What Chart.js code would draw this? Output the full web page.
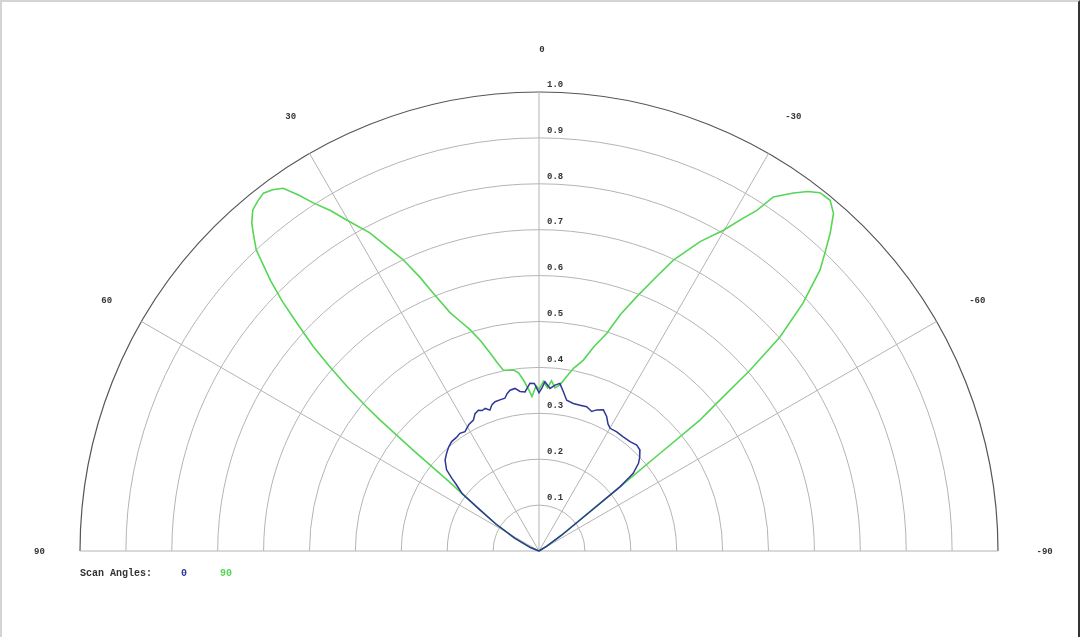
<!DOCTYPE html>
<html>
<head>
<meta charset="utf-8">
<title>Scan angle polar plot</title>
<script src="https://cdn.jsdelivr.net/npm/chart.js@4/dist/chart.umd.min.js"></script>
<style>
    body { margin: 0; background: #fff; overflow: hidden; }
    #wrap { position: relative; width: 1080px; height: 637px; }
    #frame {
        position: absolute; left: 0; top: 0; width: 1076px; height: 637px;
        border-left: 2px solid #d4d4d4; border-top: 2px solid #d4d4d4;
        border-right: 2px solid #333; box-sizing: content-box; pointer-events: none;
    }
</style>
</head>
<body>
<div id="wrap">
    <canvas id="polarChart" width="1080" height="637"></canvas>
    <div id="frame"></div>
</div>
<script>
// Scan angle 0 (blue): angle in degrees (positive = left), normalised radius
const angles0 = [90, 75, 68, 62, 58, 55, 53.2, 51.3, 50.2, 48.7, 45.9, 43.4, 41, 38.6, 36, 33.9, 31.8, 29,
    26.6, 25, 23.3, 22, 20.7, 19.2, 17.8, 16.4, 14.5, 12.6, 11.4, 10.2, 8.4, 6.8, 5.0, 3.1, 1.6, 0,
    -1, -2, -3.9, -5.5, -7.1, -8.7, -10.4, -13.1, -15.7, -18.3, -20.7, -22.2, -24.5, -26.7, -28.5, -30.1,
    -33.1, -36.4, -39.8, -42.7, -45, -47, -48.6, -50.5, -50.9, -51.6, -52.9, -55, -58, -62, -90];
const radius0 = [0, 0, 0.02, 0.06, 0.11, 0.16, 0.21, 0.23, 0.247, 0.268, 0.285, 0.293, 0.30, 0.305, 0.306, 0.309, 0.306, 0.315,
    0.319, 0.33, 0.334, 0.33, 0.332, 0.325, 0.335, 0.339, 0.340, 0.341, 0.35, 0.356, 0.358, 0.35, 0.348, 0.366, 0.365, 0.345,
    0.355, 0.369, 0.355, 0.363, 0.368, 0.351, 0.334, 0.330, 0.330, 0.331, 0.325, 0.332, 0.338, 0.328, 0.315, 0.309,
    0.310, 0.309, 0.310, 0.314, 0.311, 0.30, 0.289, 0.266, 0.251, 0.225, 0.112, 0.06, 0.02, 0, 0];

// Scan angle 90 (green)
const angles90 = [90, 75, 68, 62, 58, 55, 52.3, 51.3, 50.5, 50.1, 49.4, 48.6, 47.8, 46.8, 45.8, 44.8,
    43.2, 42, 41.2, 40, 38.8, 37.6, 36.4, 35.2, 34, 33, 31.5, 30.2, 28, 26.5, 25, 23.5, 22.3, 20.5,
    19, 17.3, 15.5, 13.9, 12.5, 11.2, 10, 8, 6.5, 5.2, 3.5, 2.6, 1.0, 0, -1.5, -3, -4.2, -5.6,
    -7.2, -9, -10.7, -13.1, -15, -17.3, -19, -21, -23, -24.8, -27.5, -29.9, -31.5, -32.6, -33.5, -35.4,
    -36.8, -38.1, -39.7, -41.1, -42.5, -43.8, -45, -46.8, -48.4, -49.4, -50.4, -50.9, -51.1, -51.6,
    -52.9, -55, -58, -62, -90];
const radius90 = [0, 0, 0.02, 0.06, 0.11, 0.16, 0.25, 0.35, 0.45, 0.49, 0.55, 0.61, 0.665, 0.72, 0.78, 0.83,
    0.90, 0.93, 0.95, 0.97, 0.978, 0.984, 0.978, 0.967, 0.935, 0.905, 0.87, 0.835, 0.785, 0.74, 0.70, 0.65, 0.607, 0.555,
    0.53, 0.505, 0.475, 0.445, 0.42, 0.402, 0.40, 0.398, 0.39, 0.374, 0.35, 0.337, 0.36, 0.352, 0.37, 0.356, 0.372, 0.357,
    0.365, 0.385, 0.405, 0.427, 0.46, 0.497, 0.545, 0.593, 0.645, 0.698, 0.76, 0.806, 0.85, 0.881, 0.925, 0.957,
    0.978, 0.992, 0.993, 0.976, 0.939, 0.90, 0.866, 0.789, 0.702, 0.606, 0.49, 0.45, 0.34, 0.225,
    0.112, 0.06, 0.02, 0, 0];

// Grid: rings, spokes and their labels
const ringValues = [0.1, 0.2, 0.3, 0.4, 0.5, 0.6, 0.7, 0.8, 0.9, 1.0];
const ringLabels = ['0.1', '0.2', '0.3', '0.4', '0.5', '0.6', '0.7', '0.8', '0.9', '1.0'];
const spokeAngles = [90, 60, 30, 0, -30, -60, -90];
const spokeLabels = ['90', '60', '30', '0', '-30', '-60', '-90'];

const legendTitle = 'Scan Angles:';
const seriesNames = ['0', '90'];
const seriesColors = ['#2f3896', '#55d655'];

// polar (deg, r) -> cartesian, positive angles to the left
function toXY(angles, radii) {
    return angles.map((a, i) => {
        const t = a * Math.PI / 180;
        return { x: -radii[i] * Math.sin(t), y: radii[i] * Math.cos(t) };
    });
}

const polarGrid = {
    id: 'polarGrid',
    beforeDatasetsDraw(chart) {
        const ctx = chart.ctx;
        const xs = chart.scales.x, ys = chart.scales.y;
        const cx = xs.getPixelForValue(0), cy = ys.getPixelForValue(0);
        const unit = xs.getPixelForValue(1) - cx;
        ctx.save();

        // rings
        ringValues.forEach((v, i) => {
            const last = i === ringValues.length - 1;
            ctx.beginPath();
            ctx.arc(cx, cy, v * unit, Math.PI, 2 * Math.PI);
            ctx.strokeStyle = last ? '#555' : '#b4b4b4';
            ctx.lineWidth = last ? 1.2 : 1;
            ctx.stroke();
        });

        // spokes
        ctx.strokeStyle = '#b4b4b4';
        ctx.lineWidth = 1;
        spokeAngles.forEach(a => {
            const t = a * Math.PI / 180;
            ctx.beginPath();
            ctx.moveTo(cx, cy);
            ctx.lineTo(cx - Math.sin(t) * unit, cy - Math.cos(t) * unit);
            ctx.stroke();
        });

        // labels
        ctx.fillStyle = '#333';
        ctx.font = 'bold 9px "Liberation Mono", monospace';
        ctx.textAlign = 'left';
        ctx.textBaseline = 'bottom';
        ringValues.forEach((v, i) => {
            ctx.fillText(ringLabels[i], cx + 8, cy - v * unit - 3);
        });
        ctx.textAlign = 'center';
        ctx.textBaseline = 'middle';
        spokeAngles.forEach((a, i) => {
            const t = a * Math.PI / 180;
            const r = 1.095 * unit;
            ctx.fillText(spokeLabels[i], cx - Math.sin(t) * r + 3, cy - Math.cos(t) * r + 1);
        });
        ctx.restore();
    },
    afterDraw(chart) {
        const ctx = chart.ctx;
        const xs = chart.scales.x, ys = chart.scales.y;
        const left = xs.getPixelForValue(-1);
        const y = ys.getPixelForValue(0) + 22;
        ctx.save();
        ctx.font = 'bold 10px "Liberation Mono", monospace';
        ctx.textBaseline = 'middle';
        ctx.textAlign = 'left';
        ctx.fillStyle = '#333';
        ctx.fillText(legendTitle, left, y);
        ctx.textAlign = 'center';
        ctx.fillStyle = seriesColors[0];
        ctx.fillText(seriesNames[0], left + 104, y);
        ctx.fillStyle = seriesColors[1];
        ctx.fillText(seriesNames[1], left + 146, y);
        ctx.restore();
    }
};

// 459 px per unit, origin at (539, 551)
const PX = 459;

new Chart(document.getElementById('polarChart'), {
    type: 'scatter',
    data: {
        datasets: [
            {
                label: seriesNames[0],
                data: toXY(angles0, radius0),
                borderColor: seriesColors[0],
                borderWidth: 1.5,
                showLine: true,
                pointRadius: 0,
                tension: 0
            },
            {
                label: seriesNames[1],
                data: toXY(angles90, radius90),
                borderColor: seriesColors[1],
                borderWidth: 1.6,
                showLine: true,
                pointRadius: 0,
                tension: 0
            }
        ]
    },
    options: {
        responsive: false,
        animation: false,
        devicePixelRatio: 1,
        layout: { padding: 0 },
        scales: {
            x: { type: 'linear', min: -539 / PX, max: 541 / PX, display: false },
            y: { type: 'linear', min: -86 / PX, max: 551 / PX, display: false }
        },
        plugins: {
            legend: { display: false },
            tooltip: { enabled: false }
        }
    },
    plugins: [polarGrid]
});
</script>
</body>
</html>
